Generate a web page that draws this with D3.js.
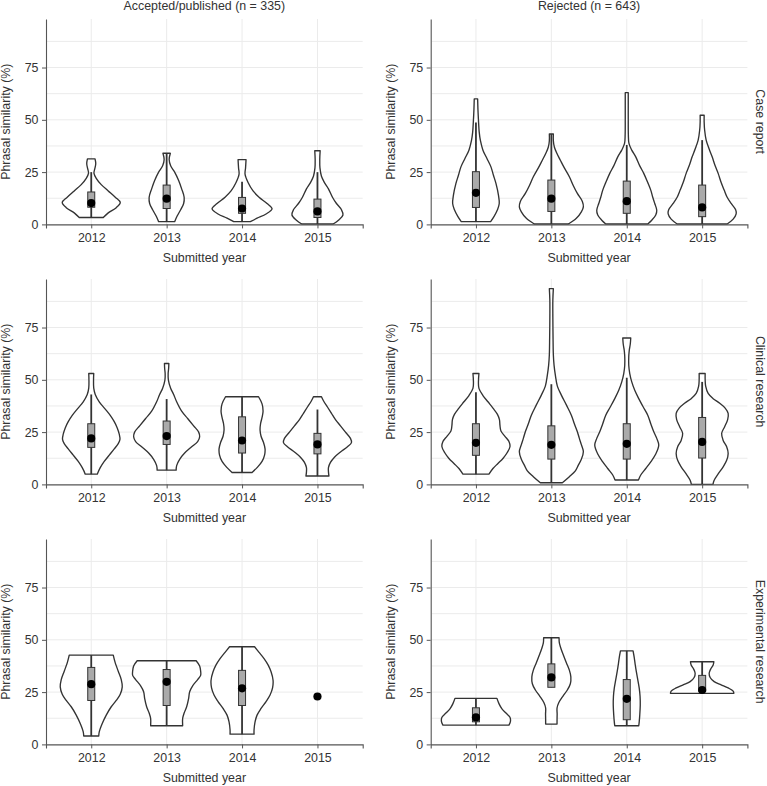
<!DOCTYPE html>
<html>
<head>
<meta charset="utf-8">
<script src="https://cdn.jsdelivr.net/npm/d3@7"></script>
<style>
  html, body { margin: 0; padding: 0; background: #fff; }
  svg { display: block; }
  text { font-family: "Liberation Sans", Arial, sans-serif; fill: #333; }
</style>
</head>
<body>
<svg id="chart" width="767" height="786"></svg>
<script>
// ---------------- DATA ----------------
const columnTitles = ["Accepted/published (n = 335)", "Rejected (n = 643)"];
const rowTitles = ["Case report", "Clinical research", "Experimental research"];
const years = ["2012", "2013", "2014", "2015"];
const yTickValues = [0, 25, 50, 75];
const yGridValues = [12.5, 25, 37.5, 50, 62.5, 75, 87.5];
const yMaxValue = 98.2;
const xTitle = "Submitted year";
const yTitle = "Phrasal similarity (%)";

// Violin profiles: [phrasal similarity, relative density] per year
const caseAccDensity = [
  [[3.3,12],[5.5,17],[8,25],[10.5,29],[13,24],[16,17],[19,10],[22,5],[24.5,2.7],[26.5,3.5],[29,4.5],[31.3,3.8]],
  [[1.3,8],[4,10.5],[7,14],[10,17],[13,17.5],[17,15],[21,12],[25,8],[28,4],[31,2.5],[34,3.7]],
  [[1.3,8.3],[3,15],[5,24],[7.5,30],[10,25],[13,17],[16,11],[20,6],[24,3],[27,3.5],[31,4]],
  [[0.2,15.7],[2,21],[4.5,25.5],[7,24],[10,19],[13,15],[17,11],[20,7],[23,4],[27,2.5],[31,2.3],[35.2,2.7]]
];
const caseAccStats = [ // [lower whisker, q1, median, q3, upper whisker]
  [3.3, 8.2, 10.2, 15.5, 25],
  [1.3, 7.6, 12.3, 18.8, 34],
  [1.3, 5.3, 7.6, 12.9, 20.4],
  [0.2, 3.3, 6.2, 12.1, 25]
];
const caseRejDensity = [
  [[1.3,14.7],[3.7,18],[7,21.5],[10,23.3],[14,22.5],[19.6,20],[23.5,17.5],[27.5,15],[31.5,11],[35.5,7],[40,4.5],[44,3.3],[50,2.5],[55,2],[60,1.7]],
  [[0.2,17],[2.9,25],[6,30],[8.4,32],[11,31],[14.8,26],[18.5,22],[22.8,18],[27,13],[30.7,9],[34,5.5],[37,3],[40,2],[43.2,2]],
  [[0.2,21],[2,25],[4.5,29],[6.8,30],[10,28],[13,26],[16.4,24],[20,21],[24.4,17],[28,13],[32.3,9],[35.5,5],[38.7,2.2],[43,1.6],[50,1.5],[57,1.5],[63,1.5]],
  [[0.2,25],[2.5,31],[5,34],[7,33.5],[10,29],[13,25],[16.4,22],[20,19],[24.4,16],[28,13],[32.3,10],[36,7],[40.3,4],[45,2.5],[49,2],[52.2,2]]
];
const caseRejStats = [
  [1.3, 8.1, 15.1, 25.2, 48.7],
  [0.2, 6.2, 12.3, 21.2, 43.2],
  [0.2, 5.3, 11.1, 20.7, 38],
  [0.2, 3.7, 8.1, 18.8, 40.3]
];
const clinAccDensity = [
  [[4.9,6],[8,9],[11,13],[14,18],[17,23],[19.5,27],[21.5,28.7],[24,28],[27,26],[30,23],[33,19],[36,14],[39.5,8],[43,4],[46,2.5],[50,2.3],[53,2.5]],
  [[6.8,9.5],[9,10],[12,13],[15,18],[18,25],[20.5,31],[22.8,33],[25,32],[28,27],[31.5,21],[35,15],[39.5,10],[43,7],[46,4],[50,1.7],[53,1.5],[55.5,2],[57.8,2.2]],
  [[5.7,10],[8,15],[11,20],[14,22.5],[17,23],[20,21.5],[23,19],[26,18],[29,18.5],[32,20],[35,21],[38.5,20],[41.9,16.5]],
  [[4,11.5],[6,11],[8,11],[10.5,13],[13,17],[15.5,23],[18,30],[20,34],[22,33],[25,28],[28,23],[31,18],[34,14],[37,10],[40,6],[41.9,4]]
];
const clinAccStats = [
  [4.9, 17.7, 22, 29, 43],
  [6.8, 19.1, 23.1, 30.3, 40.8],
  [5.7, 15, 21, 32.3, 41.9],
  [4, 14.6, 19.1, 24.4, 35.8]
];
const clinRejDensity = [
  [[4.9,13],[7.6,17],[10,22],[12.4,27],[15,31],[18,34],[20.5,33],[23,29],[25.5,25],[28.3,24],[31,23.5],[33.5,21.5],[36.5,17],[39.5,12],[42.5,7],[45.9,3],[49,2.5],[53,3]],
  [[0.8,11],[3.7,18],[6.5,24],[9.2,27],[12,30],[15.6,32],[19,30],[22,28],[25.2,26],[29,23],[33.1,20],[38,15],[42.7,10],[47,6],[52.2,4],[57,2.7],[62,2],[70,1.7],[80,1.5],[88,1.5],[93.6,2]],
  [[2.1,11.7],[4.5,14],[7.6,19],[10.8,24],[14.5,29],[18.8,32],[22,30],[25.2,27],[29,24],[33.1,21],[37,16.5],[41,12],[45,8],[49,5],[53,3],[57,2],[61,2],[64,2.5],[67,3.5],[70,4]],
  [[0,10.8],[2,12],[5,16],[8.4,21],[11.5,24.5],[14.8,26],[18,24.5],[21,21],[24.4,19.5],[27.6,22.5],[31,25.5],[34,26],[36.5,23],[38.8,17.6],[41,11],[43.5,6],[47,3.5],[50,3],[53,3]]
];
const clinRejStats = [
  [4.9, 13.9, 19.9, 29, 44],
  [0.8, 12.1, 18.9, 28, 47.9],
  [2.1, 12.1, 19.4, 29, 51],
  [0, 12.6, 20.3, 32, 49]
];
const expAccDensity = [
  [[4,7.5],[6,8],[10,11],[14,15],[18,20],[21,25],[24,29],[27.5,31],[31,30],[35,27],[39,24],[42.7,22]],
  [[8.9,16],[12.4,16],[15,17.5],[18,20],[22,22],[25.2,23],[28,26],[31,31],[33,34],[35,34],[37.5,33],[40,29.5]],
  [[4.9,12],[7,12],[10.8,13],[14,15],[17.2,19],[20.5,24],[23.6,28],[27,30.5],[30.7,31],[34.7,29],[38,26],[41,22],[44,17],[46.7,12.5]],
  []
];
const expAccStats = [
  [4, 21, 28.8, 36.8, 42.7],
  [8.9, 18.6, 29.9, 35.8, 40],
  [4.9, 18.6, 26.8, 35.4, 46.7],
  [null, null, 22.9, null, null]
];
const expRejDensity = [
  [[9.2,33],[11,34.5],[13,34],[15,30],[17,26],[19.5,23],[22,21]],
  [[9.7,5.7],[12,5.7],[14.5,5.8],[17.4,5.7],[20,7.5],[23,11.5],[26,16],[29,19],[32.3,19.5],[35.5,18],[39,15],[42.7,12],[46,9.5],[48.5,8],[51,7.7]],
  [[8.9,12],[11,12.5],[14,13],[18.8,13.5],[23,13.3],[26.8,12.5],[31,11],[35,9.5],[38,8.5],[41.5,7.5],[44.7,6.3]],
  [[24.4,31.7],[25.5,31],[27,26],[28.5,19],[30,12],[32,8],[34,7],[36,8.5],[38,11],[39.5,11.7]]
];
const expRejStats = [
  [9.2, 10.8, 12.9, 17.5, 22],
  [27.3, 27.3, 32, 38.5, 51],
  [8.9, 11.8, 21.8, 31, 44.7],
  [25.5, 25.5, 26, 33, 39.5]
];

const panelData = [
  [{d: caseAccDensity, s: caseAccStats}, {d: caseRejDensity, s: caseRejStats}],
  [{d: clinAccDensity, s: clinAccStats}, {d: clinRejDensity, s: clinRejStats}],
  [{d: expAccDensity, s: expAccStats}, {d: expRejDensity, s: expRejStats}]
];

// ---------------- LAYOUT ----------------
const colLeft = [46, 430.7];
const plotW = 316.7;
const rowTop = [19, 279, 539];
const plotH = 205.4;
const fontSize = 12.4;
const ink = "#333";

const svg = d3.select("#chart");

panelData.forEach((row, ri) => {
  row.forEach((panel, ci) => {
    const x0 = colLeft[ci], x1 = x0 + plotW;
    const yTop = rowTop[ri], yBot = yTop + plotH;
    const x = d3.scalePoint().domain(years).range([x0, x1]).padding(0.6);
    const y = d3.scaleLinear().domain([0, yMaxValue]).range([yBot, yTop]);
    const w = d3.scaleLinear().domain([0, 34]).range([0, x.step() * 0.451]);
    const g = svg.append("g");

    // grid
    g.selectAll(".hg").data(yGridValues).join("line")
      .attr("x1", x0 + 1).attr("x2", x1)
      .attr("y1", d => y(d)).attr("y2", d => y(d))
      .attr("stroke", "#ebebeb").attr("stroke-width", 1);
    g.selectAll(".vg").data(years).join("line")
      .attr("x1", d => x(d)).attr("x2", d => x(d))
      .attr("y1", yTop).attr("y2", yBot)
      .attr("stroke", "#ebebeb").attr("stroke-width", 1);

    // violins
    const area = d3.area()
      .y(p => y(p[0]))
      .curve(d3.curveCatmullRom.alpha(0.5));
    years.forEach((yr, i) => {
      const prof = panel.d[i];
      const cx = x(yr);
      if (prof.length) {
        g.append("path")
          .attr("d", area.x0(p => cx - w(p[1])).x1(p => cx + w(p[1]))(prof))
          .attr("fill", "#fff").attr("stroke", ink).attr("stroke-width", 1.35)
          .attr("stroke-linejoin", "round");
      }
      const s = panel.s[i];
      if (s[0] !== null) {
        g.append("line")
          .attr("x1", cx).attr("x2", cx)
          .attr("y1", y(s[0])).attr("y2", y(s[4]))
          .attr("stroke", ink).attr("stroke-width", 1.8);
        g.append("rect")
          .attr("x", cx - 3.5).attr("width", 7)
          .attr("y", y(s[3])).attr("height", y(s[1]) - y(s[3]))
          .attr("fill", "#aaaaaa").attr("stroke", ink).attr("stroke-width", 1);
      }
      g.append("circle")
        .attr("cx", cx).attr("cy", y(s[2])).attr("r", 4.1)
        .attr("fill", "#000");
    });

    // axes
    const xa = g.append("g").attr("transform", `translate(0,${yBot})`)
      .call(d3.axisBottom(x).tickSize(4).tickSizeOuter(4).tickPadding(5));
    const ya = g.append("g").attr("transform", `translate(${x0},0)`)
      .call(d3.axisLeft(y).tickValues(yTickValues).tickSize(4).tickSizeOuter(0).tickPadding(3.5));
    [xa, ya].forEach(a => {
      a.selectAll("path").attr("stroke", "#555").attr("stroke-width", 1.1);
      a.selectAll("line").attr("stroke", "#555").attr("stroke-width", 1);
      a.selectAll("text").attr("font-size", fontSize).attr("fill", ink)
        .attr("font-family", '"Liberation Sans", Arial, sans-serif');
    });

    // axis titles
    g.append("text").attr("x", (x0 + x1) / 2).attr("y", yBot + 38)
      .attr("text-anchor", "middle").attr("font-size", fontSize).text(xTitle);
    g.append("text")
      .attr("transform", `translate(${x0 - 36},${(yTop + yBot) / 2}) rotate(-90)`)
      .attr("text-anchor", "middle").attr("font-size", fontSize).text(yTitle);

    // column titles
    if (ri === 0) {
      g.append("text").attr("x", (x0 + x1) / 2).attr("y", 10)
        .attr("text-anchor", "middle").attr("font-size", fontSize).text(columnTitles[ci]);
    }
    // row strip labels
    if (ci === 1) {
      g.append("text")
        .attr("transform", `translate(${x1 + 8.6},${(yTop + yBot) / 2}) rotate(90)`)
        .attr("text-anchor", "middle").attr("font-size", fontSize).text(rowTitles[ri]);
    }
  });
});
</script>
</body>
</html>
